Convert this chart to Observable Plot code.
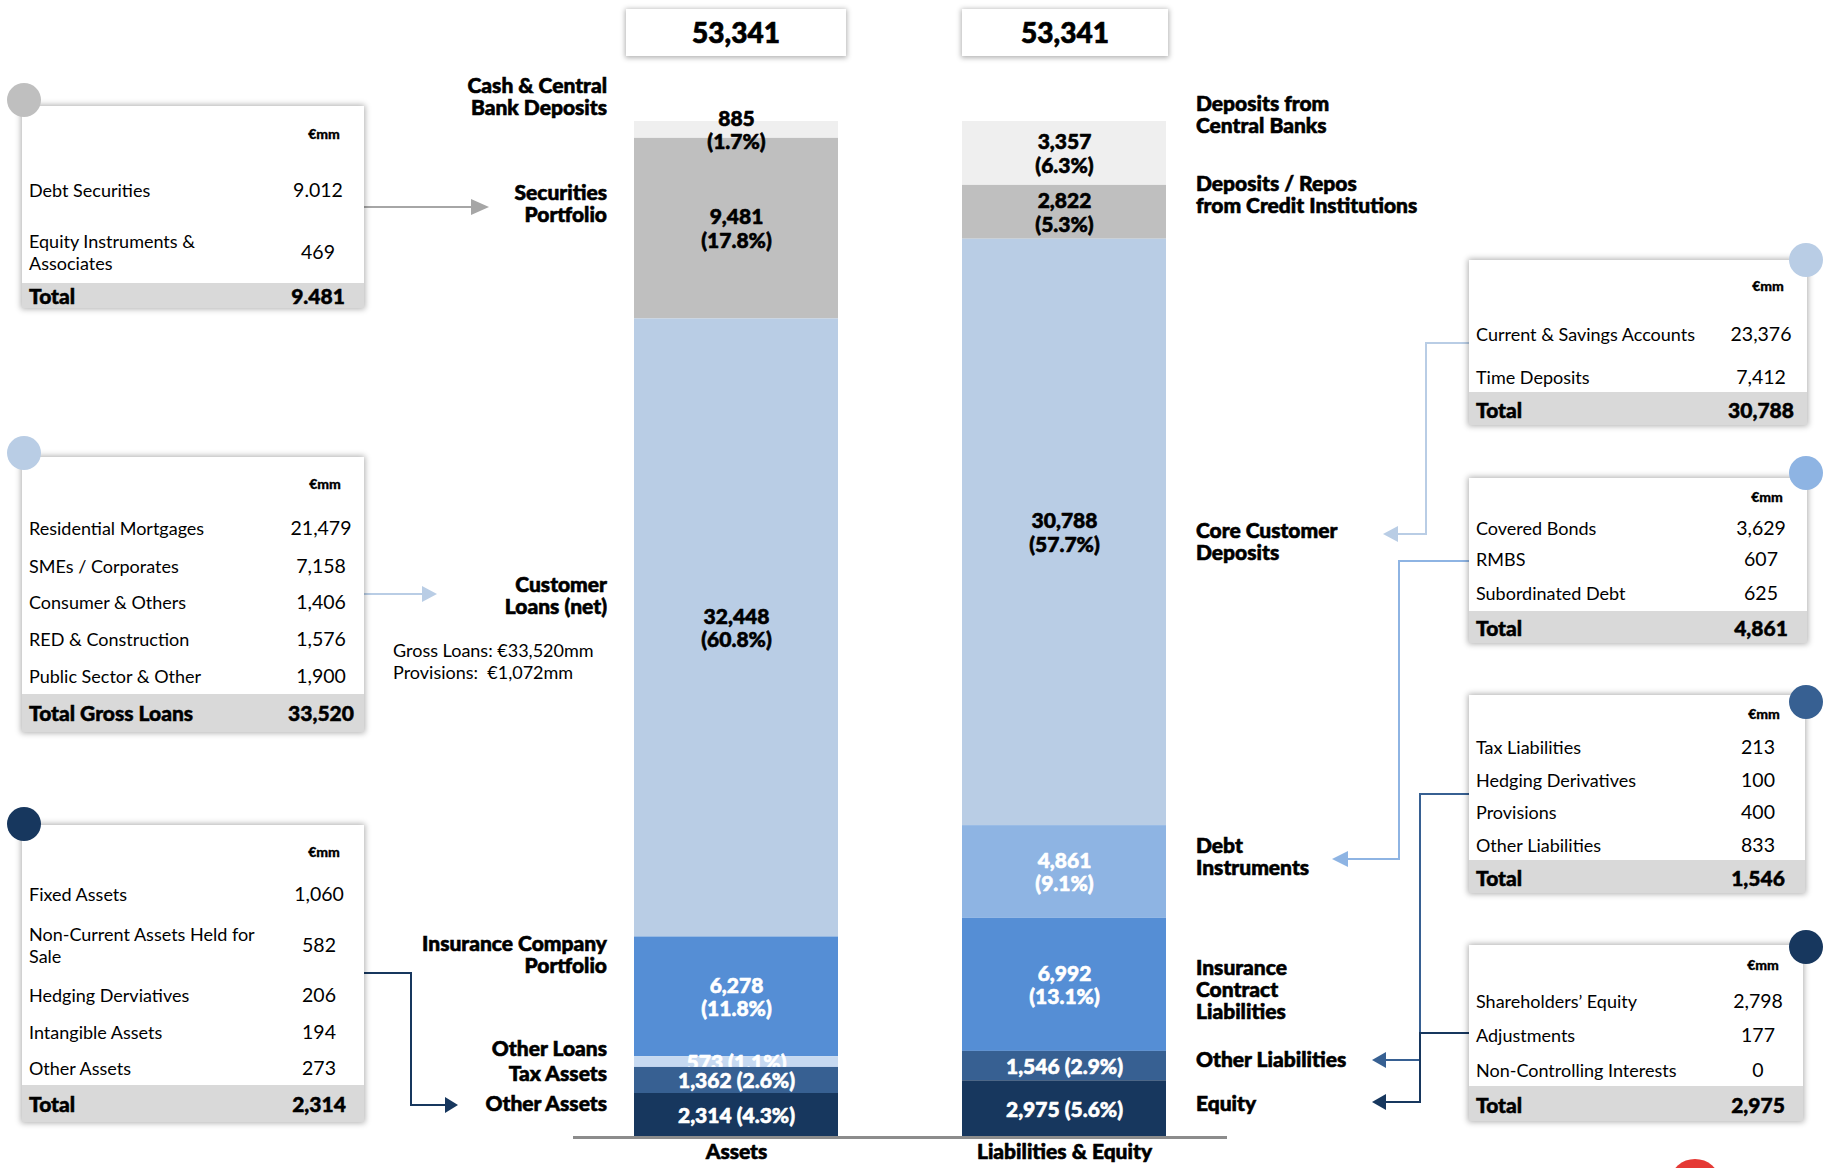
<!DOCTYPE html>
<html>
<head>
<meta charset="utf-8">
<script src="https://cdn.jsdelivr.net/npm/d3@7"></script>
<script src="https://cdn.jsdelivr.net/npm/@observablehq/plot@0.6"></script>
<style>
html, body { margin: 0; padding: 0; background: #fff; }
#stage { position: relative; width: 1824px; height: 1168px; overflow: hidden; font-family: Lato, "Open Sans", sans-serif; color: #000; }
#stage > svg, #chart svg { position: absolute; left: 0; top: 0; }
.lbl { position: absolute; font-weight: 900; font-size: 21px; line-height: 22px; white-space: pre; z-index: 2; -webkit-text-stroke: 0.6px #000; }
.note { position: absolute; font-weight: 400; font-size: 18px; line-height: 22px; white-space: pre; z-index: 2; }
.tbl { position: absolute; background: #fff; box-shadow: 0 0 6px 1px rgba(0,0,0,0.32); z-index: 3; }
.tbl .band { position: absolute; left: 0; right: 0; bottom: 0; background: #d9d9d9; }
.tbl .t { position: absolute; white-space: pre; font-size: 18px; line-height: 22px; transform: translateY(-50%); }
.tbl .v { position: absolute; white-space: pre; font-size: 19.5px; line-height: 22px; transform: translate(-50%, -50%); }
.tbl .h { position: absolute; font-size: 14px; font-weight: 900; transform: translate(-50%, -50%); -webkit-text-stroke: 0.3px #000; }
.tbl .b { font-weight: 900; font-size: 21px; -webkit-text-stroke: 0.5px #000; }
.dot { position: absolute; width: 34px; height: 34px; border-radius: 50%; z-index: 4; }
.totbox { position: absolute; background: #fff; box-shadow: 0 1px 5px 1px rgba(0,0,0,0.3); text-align: center; font-weight: 900; font-size: 28px; z-index: 2; -webkit-text-stroke: 0.7px #000; }
</style>
</head>
<body>
<div id="stage"><div id="chart"></div></div>
<script>
// ---------------- DATA ----------------
const sides = ["Assets", "Liabilities & Equity"];

const assetCategories = ["Cash & Central\nBank Deposits", "Securities\nPortfolio", "Customer\nLoans (net)", "Insurance Company\nPortfolio", "Other Loans", "Tax Assets", "Other Assets"];
const assetValues = [885, 9481, 32448, 6278, 573, 1362, 2314];

const liabilityCategories = ["Deposits from\nCentral Banks", "Deposits / Repos\nfrom Credit Institutions", "Core Customer\nDeposits", "Debt\nInstruments", "Insurance\nContract\nLiabilities", "Other Liabilities", "Equity"];
const liabilityValues = [3357, 2822, 30788, 4861, 6992, 1546, 2975];

const securitiesRows = ["Debt Securities", "Equity Instruments &\nAssociates"];
const securitiesValues = [9012, 469];
const securitiesTotal = 9481;

const loanRows = ["Residential Mortgages", "SMEs / Corporates", "Consumer & Others", "RED & Construction", "Public Sector & Other"];
const loanValues = [21479, 7158, 1406, 1576, 1900];
const loanTotal = 33520;
const grossLoans = 33520;
const provisions = 1072;

const otherAssetRows = ["Fixed Assets", "Non-Current Assets Held for\nSale", "Hedging Derviatives", "Intangible Assets", "Other Assets"];
const otherAssetValues = [1060, 582, 206, 194, 273];
const otherAssetTotal = 2314;

const depositRows = ["Current & Savings Accounts", "Time Deposits"];
const depositValues = [23376, 7412];
const depositTotal = 30788;

const debtRows = ["Covered Bonds", "RMBS", "Subordinated Debt"];
const debtValues = [3629, 607, 625];
const debtTotal = 4861;

const otherLiabRows = ["Tax Liabilities", "Hedging Derivatives", "Provisions", "Other Liabilities"];
const otherLiabValues = [213, 100, 400, 833];
const otherLiabTotal = 1546;

const equityRows = ["Shareholders’ Equity", "Adjustments", "Non-Controlling Interests"];
const equityValues = [2798, 177, 0];
const equityTotal = 2975;

// ---------------- STYLE / LAYOUT ----------------
const assetFills = ["#efefef", "#bfbfbf", "#b9cde5", "#558ed5", "#c6d9f1", "#376092", "#17375e"];
const liabFills  = ["#efefef", "#bfbfbf", "#b9cde5", "#8eb4e3", "#558ed5", "#376092", "#17375e"];
const darkText = ["#000", "#000", "#000", "#fff", "#fff", "#fff", "#fff"];
const inlineFrom = [4, 5]; // segments from this index down use a one-line label

const assetLabelTops = [74, 181, 573, 932, 1037, 1062, 1092];
const assetLabelRight = 607;
const liabLabelTops = [92, 172, 519, 834, 956, 1048, 1092];
const liabLabelLeft = 1196;

const fmt = d3.format(",");
const fmtDot = v => fmt(v).replace(/,/g, ".");
const pct = d3.format(".1%");

// ---------------- BAR ROWS ----------------
const rows = [];
function addSide(s, cats, vals, fills) {
  const side = sides[s];
  const total = d3.sum(vals);
  let top = total;
  cats.forEach((c, i) => {
    const v = vals[i], y2 = top, y1 = top - v;
    top = y1;
    rows.push({
      side, cat: c, idx: i, value: v, y1, y2, mid: (y1 + y2) / 2,
      fill: fills[i], textFill: darkText[i],
      label: fmt(v) + (i >= inlineFrom[s] ? " " : "\n") + "(" + pct(v / total) + ")"
    });
  });
  return total;
}
const assetTotal = addSide(0, assetCategories, assetValues, assetFills);
const liabTotal = addSide(1, liabilityCategories, liabilityValues, liabFills);
const grand = Math.max(assetTotal, liabTotal);

const textOpts = {x: "side", y: "mid", text: "label", fill: "textFill", stroke: "textFill", strokeWidth: 0.6, fontSize: 21, fontWeight: 900, lineHeight: 1.12};
const isOtherLoans = d => d.side === sides[0] && d.idx === 4;
const isTax = d => d.side === sides[0] && d.idx === 5;

const chart = Plot.plot({
  width: 1824, height: 1168,
  marginTop: 121, marginBottom: 31, marginLeft: 573, marginRight: 597,
  style: {fontFamily: "Lato, sans-serif", background: "transparent"},
  x: {type: "band", domain: sides, paddingInner: 0.3775, paddingOuter: 0.184, axis: null},
  y: {domain: [0, grand], axis: null},
  color: {type: "identity"},
  marks: [
    Plot.barY(rows, {x: "side", y1: "y1", y2: "y2", fill: "fill"}),
    Plot.text(rows.filter(isOtherLoans), textOpts),
    Plot.barY(rows.filter(isTax), {x: "side", y1: "y1", y2: "y2", fill: "fill"}),
    Plot.text(rows.filter(d => !isOtherLoans(d)), textOpts),
    Plot.ruleY([0], {stroke: "#8c8c8c", strokeWidth: 3}),
    Plot.text(sides, {x: d => d, text: d => d, frameAnchor: "bottom", dy: 21, fontSize: 21, fontWeight: 900, fill: "#000", stroke: "#000", strokeWidth: 0.6})
  ]
});
document.getElementById("chart").appendChild(chart);

const stage = document.getElementById("stage");
function el(cls, css, text) {
  const d = document.createElement("div");
  d.className = cls;
  Object.assign(d.style, css);
  if (text != null) d.textContent = text;
  stage.appendChild(d);
  return d;
}

// total boxes
const totalBoxes = [{left: 626, width: 220}, {left: 962, width: 206}];
[assetTotal, liabTotal].forEach((t, i) => {
  el("totbox", {left: totalBoxes[i].left + "px", top: "9px", width: totalBoxes[i].width + "px", height: "47px", lineHeight: "47px"}, fmt(t));
});

// category labels
assetCategories.forEach((c, i) => el("lbl", {right: (1824 - assetLabelRight) + "px", top: assetLabelTops[i] + "px", textAlign: "right"}, c));
liabilityCategories.forEach((c, i) => el("lbl", {left: liabLabelLeft + "px", top: liabLabelTops[i] + "px"}, c));
el("note", {left: "393px", top: "639px"}, "Gross Loans: €" + fmt(grossLoans) + "mm\nProvisions:  €" + fmt(provisions) + "mm");

// ---------------- CONNECTORS ----------------
const connectors = [
  {color: "#a6a6a6", pts: [[364, 207], [471, 207]], tip: 489},
  {color: "#b9cde5", pts: [[364, 594], [422, 594]], tip: 437},
  {color: "#17375e", pts: [[364, 973], [411, 973], [411, 1105], [445, 1105]], tip: 458},
  {color: "#b9cde5", pts: [[1469, 343], [1426, 343], [1426, 534], [1398, 534]], tip: 1383},
  {color: "#8eb4e3", pts: [[1469, 561], [1399, 561], [1399, 859], [1348, 859]], tip: 1332},
  {color: "#376092", pts: [[1469, 794], [1420, 794], [1420, 1060], [1386, 1060]], tip: 1372},
  {color: "#17375e", pts: [[1469, 1033], [1420, 1033], [1420, 1102], [1386, 1102]], tip: 1372}
];
const ov = d3.select(stage).append("svg").attr("width", 1824).attr("height", 1168).style("z-index", 1).style("pointer-events", "none");
connectors.forEach(c => {
  ov.append("path").attr("d", d3.line()(c.pts)).attr("fill", "none").attr("stroke", c.color).attr("stroke-width", 2);
  const [bx, by] = c.pts[c.pts.length - 1];
  ov.append("path").attr("d", `M${bx},${by - 8}L${c.tip},${by}L${bx},${by + 8}Z`).attr("fill", c.color);
});
ov.append("ellipse").attr("cx", 1695).attr("cy", 1180).attr("rx", 24).attr("ry", 21).attr("fill", "#e53935");

// ---------------- TABLES ----------------
const tables = [
  {rows: securitiesRows, vals: securitiesValues, total: securitiesTotal, totalLabel: "Total", f: fmtDot,
   left: 22, top: 106, width: 342, height: 202, header: 27, rowY: [84, 146], band: 177, totalY: 190, valueX: 296, headerX: 302, dot: [24, 100], color: "#bfbfbf"},
  {rows: loanRows, vals: loanValues, total: loanTotal, totalLabel: "Total Gross Loans", f: fmt,
   left: 22, top: 457, width: 342, height: 275, header: 26, rowY: [71, 109, 145, 182, 219], band: 237, totalY: 256, valueX: 299, headerX: 303, dot: [24, 453], color: "#b9cde5"},
  {rows: otherAssetRows, vals: otherAssetValues, total: otherAssetTotal, totalLabel: "Total", f: fmt,
   left: 22, top: 825, width: 342, height: 297, header: 26, rowY: [69, 120, 170, 207, 243], band: 260, totalY: 279, valueX: 297, headerX: 302, dot: [24, 824], color: "#17375e"},
  {rows: depositRows, vals: depositValues, total: depositTotal, totalLabel: "Total", f: fmt,
   left: 1469, top: 260, width: 338, height: 165, header: 25, rowY: [74, 117], band: 132, totalY: 150, valueX: 292, headerX: 299, dot: [1806, 260], color: "#b9cde5"},
  {rows: debtRows, vals: debtValues, total: debtTotal, totalLabel: "Total", f: fmt,
   left: 1469, top: 478, width: 338, height: 165, header: 18, rowY: [50, 81, 115], band: 133, totalY: 150, valueX: 292, headerX: 298, dot: [1806, 473], color: "#8eb4e3"},
  {rows: otherLiabRows, vals: otherLiabValues, total: otherLiabTotal, totalLabel: "Total", f: fmt,
   left: 1469, top: 695, width: 336, height: 198, header: 18, rowY: [52, 85, 117, 150], band: 165, totalY: 183, valueX: 289, headerX: 295, dot: [1806, 702], color: "#376092"},
  {rows: equityRows, vals: equityValues, total: equityTotal, totalLabel: "Total", f: fmt,
   left: 1469, top: 945, width: 334, height: 176, header: 19, rowY: [56, 90, 125], band: 141, totalY: 160, valueX: 289, headerX: 294, dot: [1806, 947], color: "#17375e"}
];
tables.forEach(t => {
  const box = el("tbl", {left: t.left + "px", top: t.top + "px", width: t.width + "px", height: t.height + "px"});
  const add = (cls, css, text) => { const d = document.createElement("div"); d.className = cls; Object.assign(d.style, css); d.textContent = text; box.appendChild(d); return d; };
  add("band", {top: t.band + "px"}, "");
  add("h", {left: t.headerX + "px", top: t.header + "px"}, "€mm");
  t.rows.forEach((r, i) => {
    add("t", {left: "7px", top: t.rowY[i] + "px"}, r);
    add("v", {left: t.valueX + "px", top: t.rowY[i] + "px"}, t.f(t.vals[i]));
  });
  add("t b", {left: "7px", top: t.totalY + "px"}, t.totalLabel);
  add("v b", {left: t.valueX + "px", top: t.totalY + "px"}, t.f(t.total));
  el("dot", {left: (t.dot[0] - 17) + "px", top: (t.dot[1] - 17) + "px", background: t.color});
});
</script>
</body>
</html>
